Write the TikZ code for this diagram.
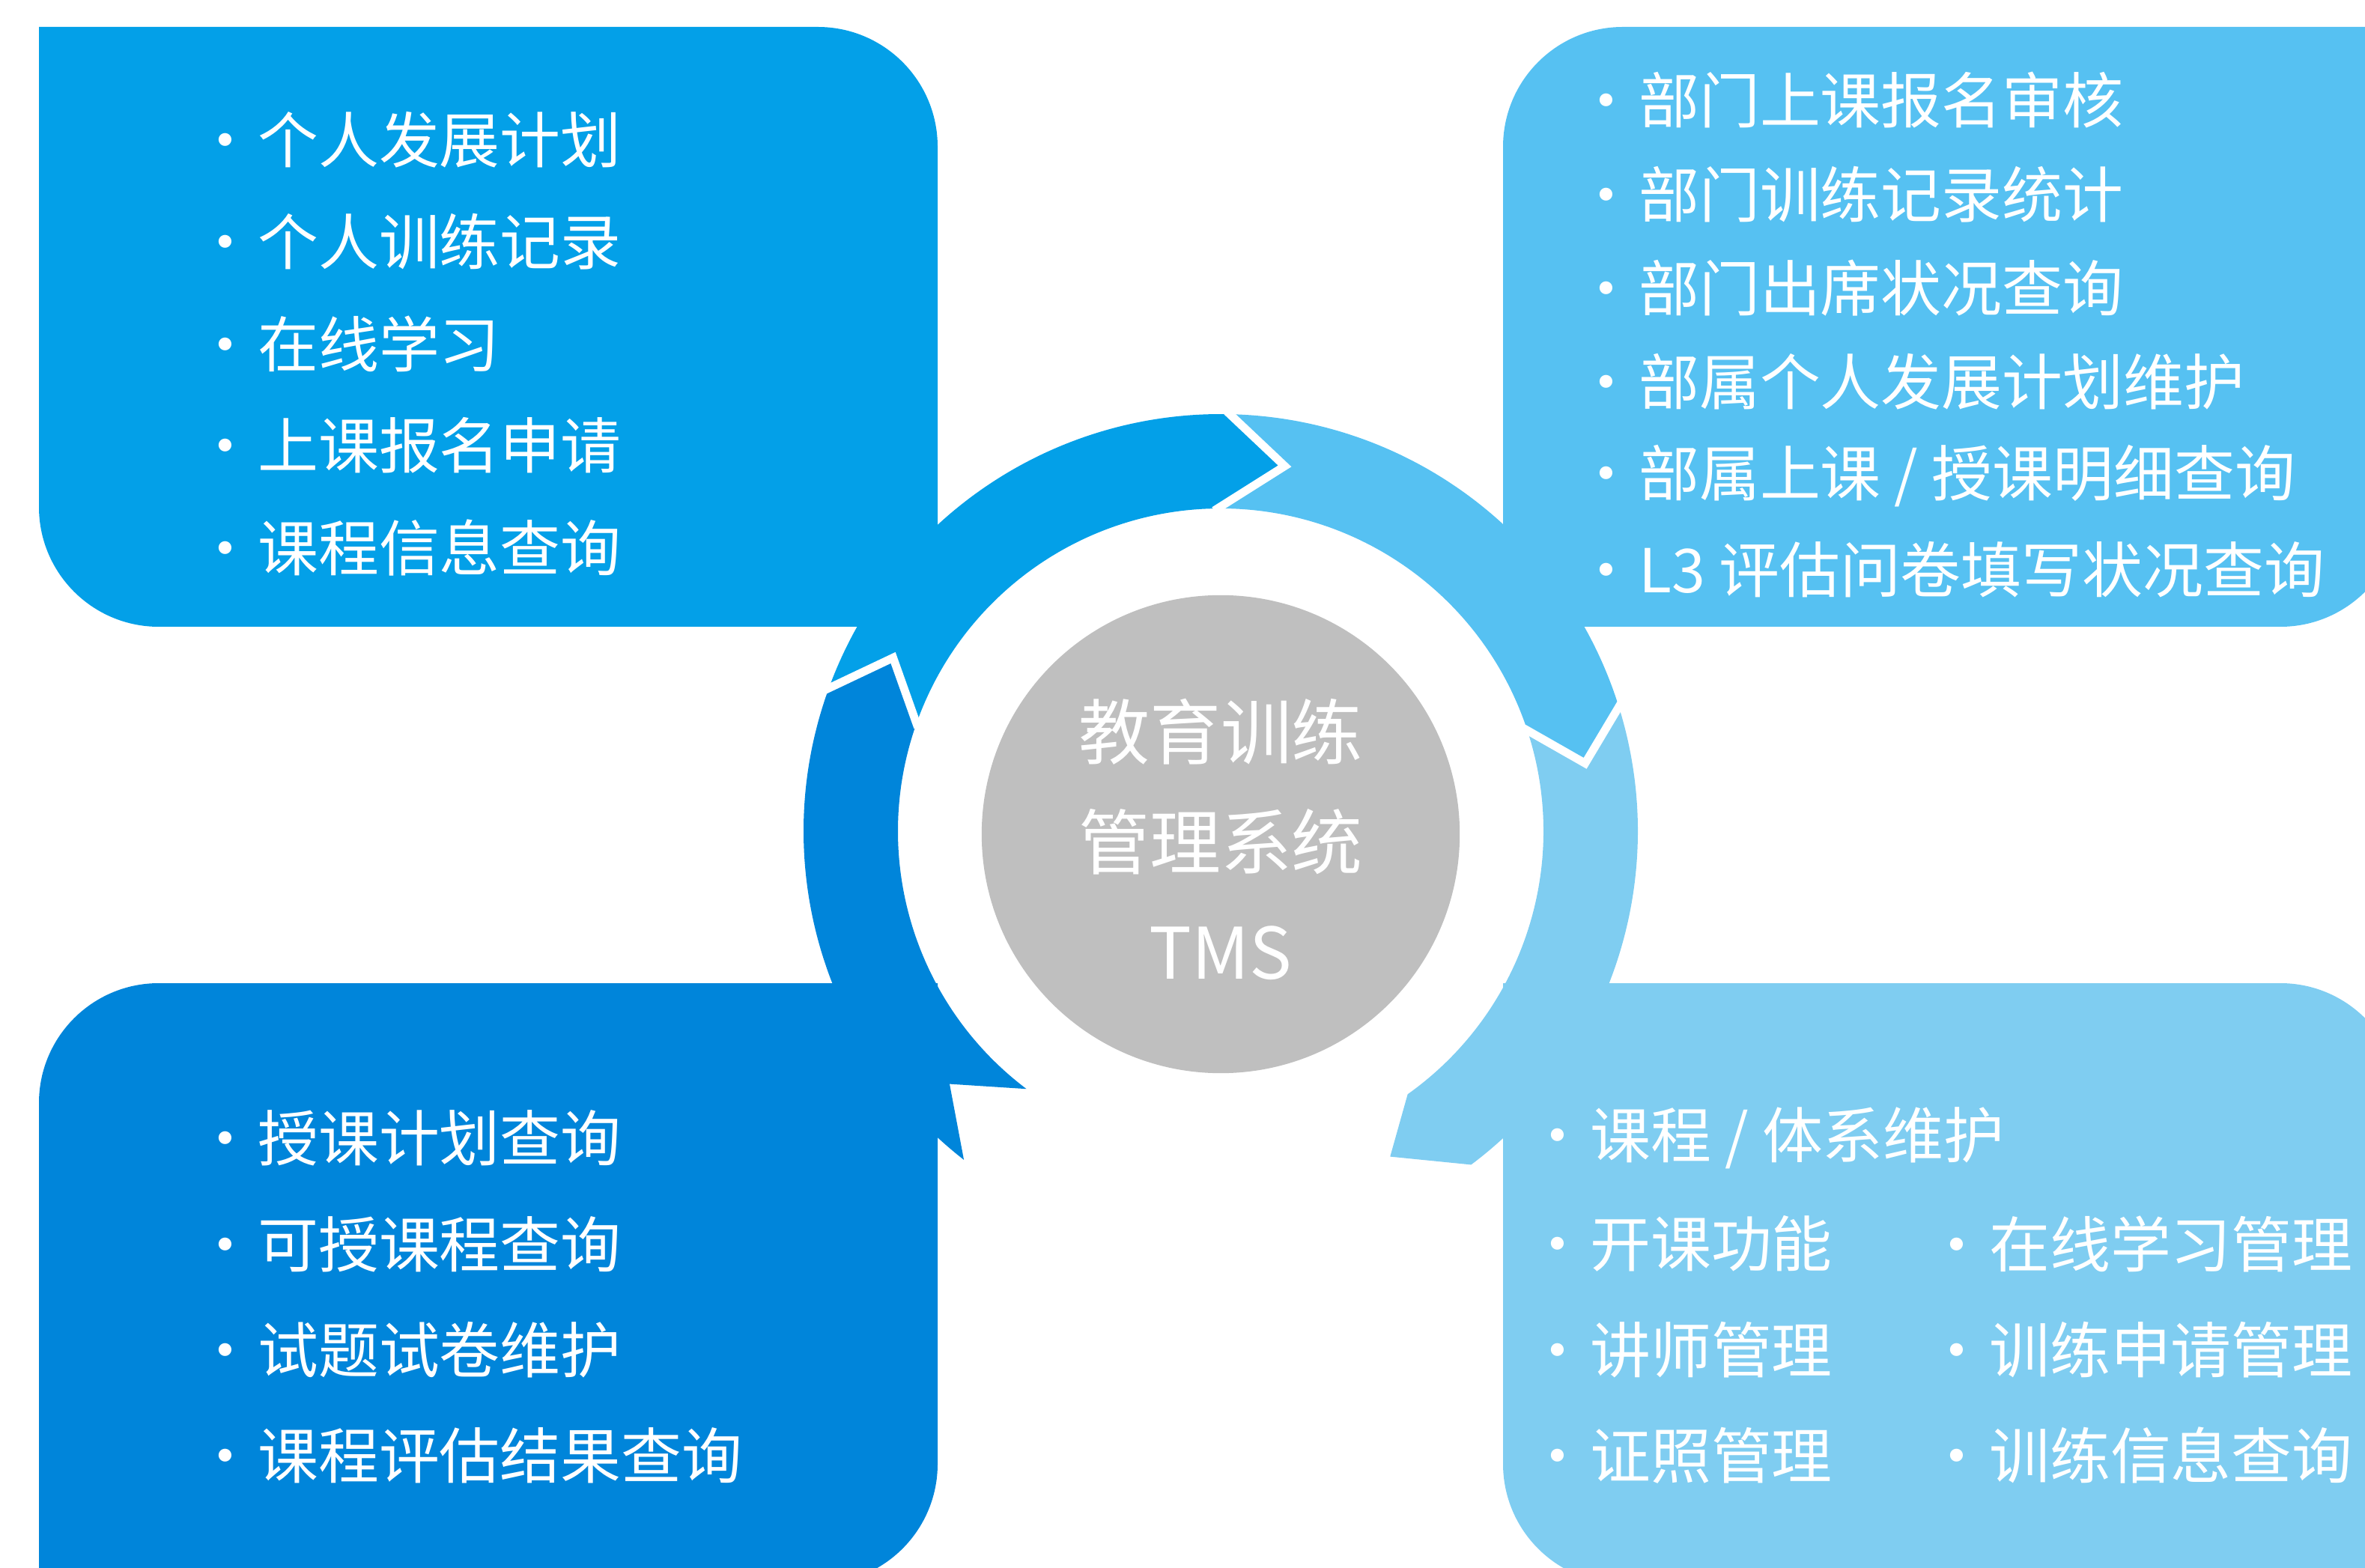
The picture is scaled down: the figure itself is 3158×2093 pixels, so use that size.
\documentclass[tikz,border=0pt]{standalone}
\usepackage{fontspec}
\setmainfont{Noto Sans CJK SC}
\definecolor{tlblue}{HTML}{03A0E8}
\definecolor{trblue}{HTML}{56C1F2}
\definecolor{brblue}{HTML}{7FCDF1}
\definecolor{blblue}{HTML}{0085DA}
\definecolor{hubgray}{HTML}{BFBFBF}
\tikzstyle{item}=[text=white, font=\fontsize{23}{28}\selectfont, inner sep=0pt, anchor=west]
\tikzstyle{hub}=[circle, fill=hubgray, minimum size=6.38cm, inner sep=0pt]
\tikzstyle{hubtext}=[text=white, font=\fontsize{27}{41.8}\selectfont, align=center, inner sep=0pt]
\tikzstyle{gapline}=[draw=white, line width=3.1pt, line cap=rect]
\newcommand{\bul}[1]{\makebox[0pt]{·}\hspace{0.54em}#1}

\begin{document}
\begin{tikzpicture}[x=0.01cm, y=0.01cm]
      \useasboundingbox (0,0) rectangle (3158,2093);
      \clip (0,0) rectangle (3158,2093);
      % the four boxes
      \fill[tlblue] (52,2057) -- (1092,2057) arc[start angle=90, end angle=0, radius=160]
          -- (1252,1256) -- (212,1256) arc[start angle=270, end angle=180, radius=160] -- cycle;
      \fill[trblue] (2167,2057) -- (3205,2057) -- (3205,1416) arc[start angle=0, end angle=-90, radius=160]
          -- (2007,1256) -- (2007,1897) arc[start angle=180, end angle=90, radius=160] -- cycle;
      \fill[blblue] (52,620) arc[start angle=180, end angle=90, radius=160] -- (1252,780)
          -- (1252,138) arc[start angle=0, end angle=-90, radius=160] -- (52,-22) -- cycle;
      \fill[brblue] (2007,780) -- (3045,780) arc[start angle=90, end angle=0, radius=160]
          -- (3205,-22) -- (2167,-22) arc[start angle=270, end angle=180, radius=160] -- cycle;
      % the ring of arrows
      \begin{scope}[shift={(1630,983)}]
        \coordinate (lefto) at (159.95:557);
        \coordinate (leftt) at (152.1:495);
        \coordinate (lefti) at (160.5:431);
        \coordinate (topo) at (88.75:557);
        \coordinate (topt) at (80.05:495);
        \coordinate (topi) at (90.55:431);
        \coordinate (righto) at (17.35:557);
        \coordinate (rightt) at (10.55:495);
        \coordinate (righti) at (18.2:431);
        \fill[tlblue] (lefto) arc[start angle=159.95, end angle=88.75, radius=557] -- (topt) -- (topi)
            arc[start angle=90.55, end angle=160.5, radius=431] -- (leftt) -- cycle;
        \fill[trblue] (topo) arc[start angle=88.75, end angle=17.35, radius=557] -- (rightt) -- (righti)
            arc[start angle=18.2, end angle=90.55, radius=431] -- (topt) -- cycle;
        \fill[brblue] (righto) arc[start angle=17.35, end angle=-53.1, radius=557] -- (-62.5:490) -- (-54.6:431)
            arc[start angle=-54.6, end angle=18.2, radius=431] -- (rightt) -- cycle;
        \fill[blblue] (-128:557) arc[start angle=-128, end angle=-200.05, radius=557] -- (leftt) -- (lefti)
            arc[start angle=-199.5, end angle=-127, radius=431] -- (-137:495) -- cycle;
        \draw[gapline] (lefto) -- (leftt) -- (lefti);
        \draw[gapline] (topo) -- (topt) -- (topi);
        \draw[gapline] (righto) -- (rightt) -- (righti);
      \end{scope}
      % centre
      \node[hub] (hub) at (1630,979) {};
      \node[hubtext] (hublabel) at (1630,972) {教育训练\\管理系统\\TMS};
      % lists
      \foreach \txt [count=\i] in {个人发展计划,个人训练记录,在线学习,上课报名申请,课程信息查询}
          \node[item] (tl\i) at (300,{2042-136*\i}) {\bul{\txt}};
      \foreach \txt [count=\i] in {部门上课报名审核,部门训练记录统计,部门出席状况查询,部属个人发展计划维护,
          部属上课 / 授课明细查询,L3 评估问卷填写状况查询}
          \node[item] (tr\i) at (2144,{2084.4-125.4*\i}) {\bul{\txt}};
      \foreach \txt [count=\i] in {授课计划查询,可授课程查询,试题试卷维护,课程评估结果查询}
          \node[item] (bl\i) at (300,{714.3-141.3*\i}) {\bul{\txt}};
      \foreach \txt [count=\i] in {课程 / 体系维护,开课功能,讲师管理,证照管理}
          \node[item] (br\i) at (2079,{714.3-141.3*\i}) {\bul{\txt}};
      \foreach \txt [count=\i] in {在线学习管理,训练申请管理,训练信息查询}
          \node[item] (brr\i) at (2612,{573-141.3*\i}) {\bul{\txt}};
\end{tikzpicture}
\end{document}
